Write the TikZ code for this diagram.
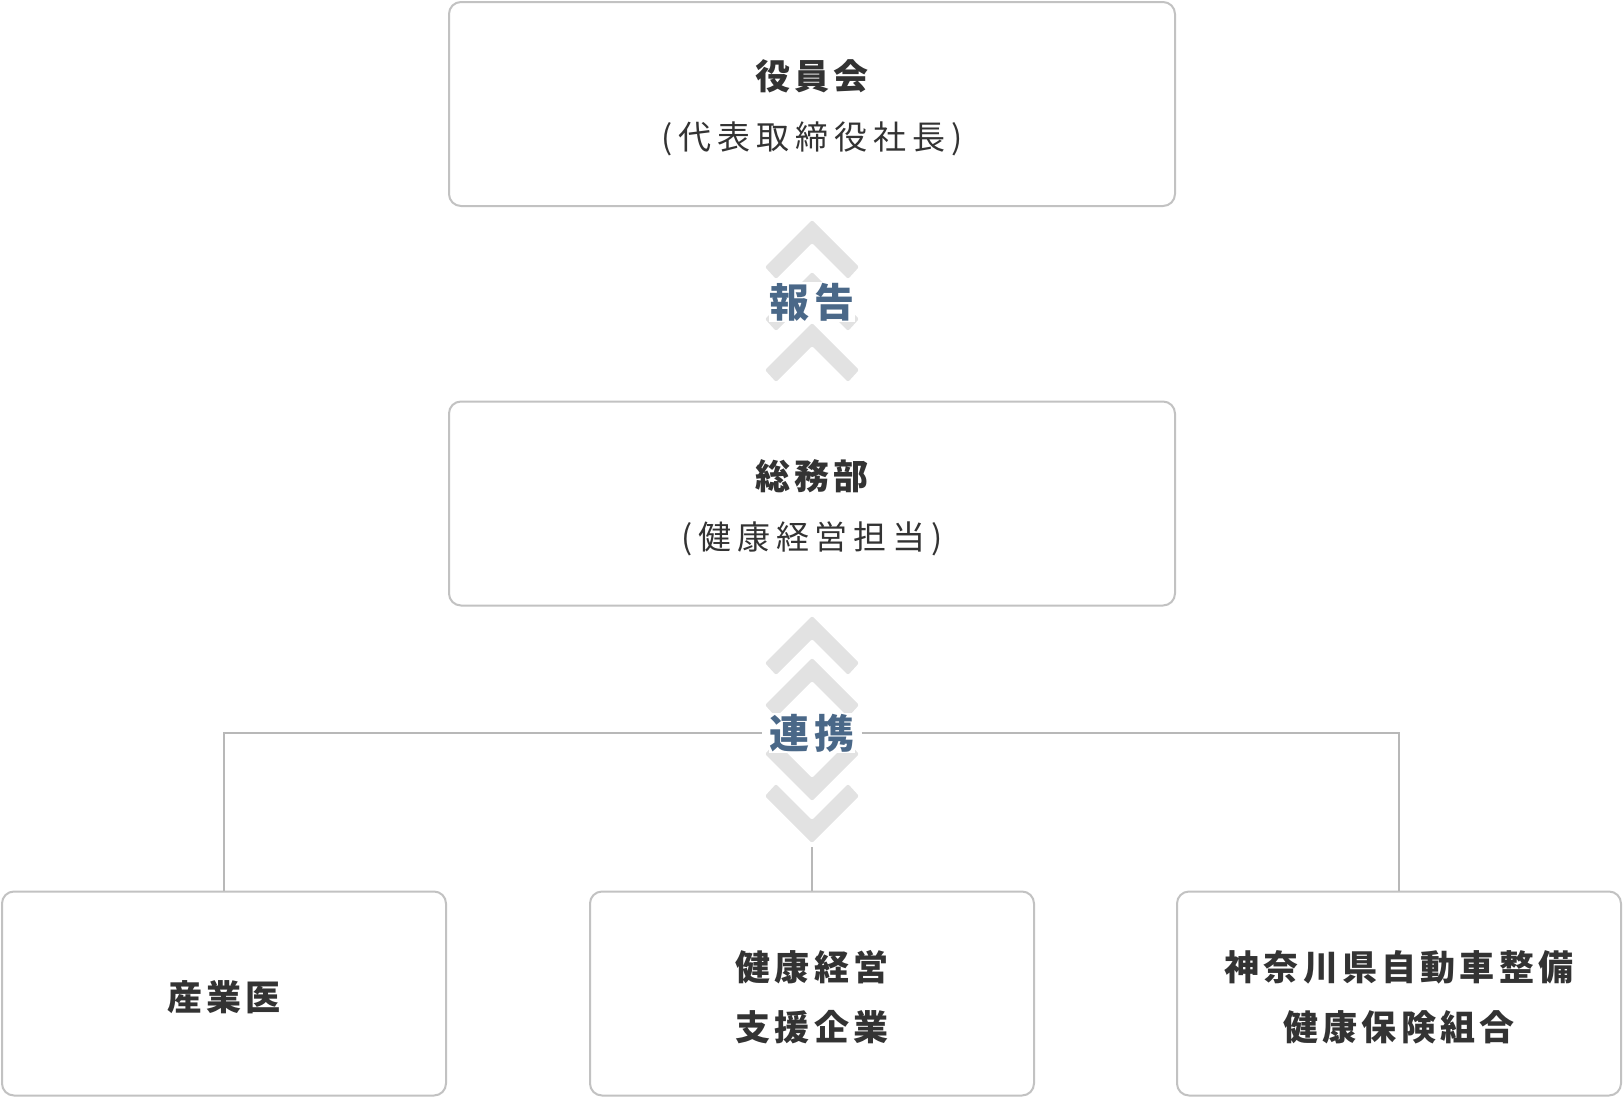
\documentclass[tikz,border=0pt]{standalone}
\usepackage{fontspec}
\usepackage{xcolor}
\usepackage{tikz}
\setmainfont{Noto Sans CJK JP}
\definecolor{BoxGray}{HTML}{C2C2C2}
\definecolor{LineGray}{HTML}{B8B8B8}
\definecolor{ChevGray}{HTML}{E2E2E2}
\definecolor{InkGray}{HTML}{333333}
\definecolor{SlateBlue}{HTML}{4A6888}
\newcommand{\boxstrut}{\rule{0pt}{38pt}}
\newcommand{\headtext}[1]{{\fontsize{35}{60}\selectfont\bfseries\addfontfeature{LetterSpace=12}\boxstrut#1}}
\newcommand{\subtext}[1]{{\fontsize{33}{60}\selectfont\addfontfeature{LetterSpace=18}#1}}
\newcommand{\linktext}[1]{{\fontsize{40}{48}\selectfont\bfseries\addfontfeature{LetterSpace=12}#1}}

\begin{document}
\begin{tikzpicture}[x=1pt, y=-1pt,
    box/.style={draw=BoxGray, line width=2pt, rounded corners=12pt, fill=white,
        minimum height=204pt, align=center, text=InkGray, font=\fontsize{35}{60}\selectfont},
    wide/.style={box, minimum width=726pt},
    narrow/.style={box, minimum width=444pt},
    chevron/.style={fill=ChevGray, rounded corners=2pt},
    link/.style={draw=LineGray, line width=2pt},
    linklabel/.style={fill=white, text=SlateBlue, inner xsep=1pt, inner ysep=1pt}]
    \useasboundingbox (0,0) rectangle (1624,1100);

    % Draw the upper boxes
    \node[wide] (board) at (812,104) {\headtext{役員会}\\\subtext{(代表取締役社長)}};
    \node[wide] (affairs) at (812,503.5) {\headtext{総務部}\\\subtext{(健康経営担当)}};

    % Draw the lower boxes
    \node[narrow] (doctor) at (224,993.5) {\headtext{産業医}};
    \node[narrow] (support) at (812,993.5) {\headtext{健康経営}\\\headtext{支援企業}};
    \node[narrow] (union) at (1399,993.5) {\headtext{神奈川県自動車整備}\\\headtext{健康保険組合}};

    % chevrons between board and affairs
    \foreach \t in {220, 272, 323}{
        \fill[chevron] (812,\t) -- ++(47,47) -- ++(-11,12) -- (812,\t+23) -- ++(-36,36) -- ++(-11,-12) -- cycle;
    }

    % chevrons below affairs, up and down
    \foreach \t in {616, 658}{
        \fill[chevron] (812,\t) -- ++(47,47) -- ++(-11,12) -- (812,\t+23) -- ++(-36,36) -- ++(-11,-12) -- cycle;
    }
    \foreach \b in {801, 843}{
        \fill[chevron] (812,\b) -- ++(47,-47) -- ++(-11,-12) -- (812,\b-23) -- ++(-36,-36) -- ++(-11,12) -- cycle;
    }

    % Draw the labels
    \node[linklabel] (report) at (812,302) {\linktext{報告}};
    \node[linklabel] (coop) at (812,733) {\linktext{連携}};

    % Draw the connectors
    \coordinate (tip) at (812,847);
    \draw[link] (doctor.north) |- ([xshift=-6pt]coop.west);
    \draw[link] ([xshift=6pt]coop.east) -| (union.north);
    \draw[link] (tip) -- (support.north);
\end{tikzpicture}
\end{document}
